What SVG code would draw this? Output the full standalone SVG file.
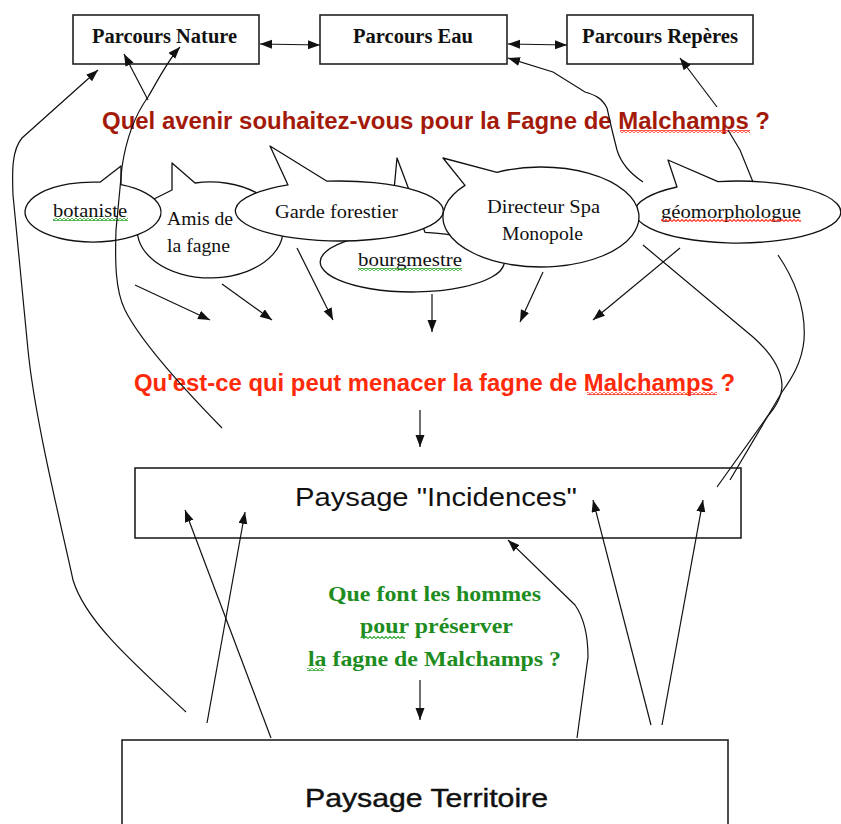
<svg xmlns="http://www.w3.org/2000/svg" width="841" height="824" viewBox="0 0 841 824">
  <style>
    .box { fill: #fff; stroke: #222; stroke-width: 1.6; }
    .bubble { fill: #fff; stroke: #111; stroke-width: 1.3; stroke-linejoin: round; }
    .lbl { font-family: "Liberation Serif", "Times New Roman", serif; font-weight: bold; font-size: 20px; fill: #111; }
    .say { font-family: "Liberation Serif", "Times New Roman", serif; font-size: 19px; fill: #111; }
    .q1 { font-family: "Liberation Sans", Arial, sans-serif; font-weight: bold; font-size: 23.5px; fill: #a31a0b; }
    .q2 { font-family: "Liberation Sans", Arial, sans-serif; font-weight: bold; font-size: 23.5px; fill: #ff2a0a; }
    .q3 { font-family: "Liberation Serif", "Times New Roman", serif; font-weight: bold; font-size: 22px; fill: #1e8c1e; }
    .big { font-family: "Liberation Sans", Arial, sans-serif; font-size: 25px; fill: #111; }
    .heavy { stroke: #111; stroke-width: 0.4; }
    .link { fill: none; stroke: #111; stroke-width: 1.2; }
    .arr { marker-end: url(#head); }
    .both { marker-start: url(#head); marker-end: url(#head); }
  </style>
  <defs>
    <marker id="head" markerUnits="userSpaceOnUse" markerWidth="13" markerHeight="10" refX="12" refY="4.5" orient="auto-start-reverse">
      <path d="M0,0 L12,4.5 L0,9 Z" fill="#111"/>
    </marker>
    <pattern id="wavyGreen" patternUnits="userSpaceOnUse" width="4" height="3">
      <path d="M0,2.5 L2,0.5 L4,2.5" fill="none" stroke="#2fa52f" stroke-width="1.1"/>
    </pattern>
    <pattern id="wavyRed" patternUnits="userSpaceOnUse" width="4" height="3">
      <path d="M0,2.5 L2,0.5 L4,2.5" fill="none" stroke="#ff3020" stroke-width="1.1"/>
    </pattern>
  </defs>
  <rect width="841" height="824" fill="#fff"/>

  <!-- top boxes -->
  <g id="parcours-nature">
    <rect class="box" x="73" y="15" width="186" height="49"/>
    <text class="lbl" x="92" y="43" textLength="145" lengthAdjust="spacingAndGlyphs">Parcours Nature</text>
  </g>
  <g id="parcours-eau">
    <rect class="box" x="320" y="15" width="187" height="49"/>
    <text class="lbl" x="353" y="43" textLength="120" lengthAdjust="spacingAndGlyphs">Parcours Eau</text>
  </g>
  <g id="parcours-reperes">
    <rect class="box" x="567" y="15" width="186" height="49"/>
    <text class="lbl" x="582" y="43" textLength="156" lengthAdjust="spacingAndGlyphs">Parcours Repères</text>
  </g>

  <!-- questions -->
  <g id="question-avenir">
    <text class="q1" x="102" y="129" textLength="668" lengthAdjust="spacingAndGlyphs">Quel avenir souhaitez-vous pour la Fagne de Malchamps ?</text>
    <rect x="620" y="130" width="130" height="3" fill="url(#wavyRed)"/>
  </g>

  <!-- speech bubbles, back to front -->
  <g id="amis-de-la-fagne">
    <path class="bubble" d="M155,198.5 L172,190 L172,163 L195,183 A73,48 0 1 1 155,198.5 Z"/>
    <text class="say" x="167" y="225" textLength="66" lengthAdjust="spacingAndGlyphs">Amis de</text>
    <text class="say" x="167" y="252" textLength="63" lengthAdjust="spacingAndGlyphs">la fagne</text>
  </g>
  <g id="bourgmestre">
    <path class="bubble" d="M390,232.9 L397,158 L425,232.3 A92,30 0 1 1 390,232.9 Z"/>
    <text class="say" x="358" y="266" textLength="104" lengthAdjust="spacingAndGlyphs">bourgmestre</text>
    <rect x="358" y="268" width="104" height="3" fill="url(#wavyGreen)"/>
  </g>
  <g id="geomorphologue">
    <path class="bubble" d="M677,187 L668,160 L718,181.6 A103,31 0 1 1 677,187 Z"/>
    <text class="say" x="661" y="218" textLength="140" lengthAdjust="spacingAndGlyphs">géomorphologue</text>
    <rect x="661" y="219" width="140" height="3" fill="url(#wavyRed)"/>
  </g>
  <g id="botaniste">
    <path class="bubble" d="M100,182.2 L121,166 L121,184.7 A68,30 0 1 1 100,182.2 Z"/>
    <text class="say" x="53" y="217" textLength="74" lengthAdjust="spacingAndGlyphs">botaniste</text>
    <rect x="53" y="218" width="75" height="3" fill="url(#wavyGreen)"/>
  </g>
  <g id="garde-forestier">
    <path class="bubble" d="M288,184.9 L270,146 L327,181.2 A104,30 0 1 1 288,184.9 Z"/>
    <text class="say" x="275" y="218" textLength="123" lengthAdjust="spacingAndGlyphs">Garde forestier</text>
  </g>
  <g id="directeur-spa">
    <path class="bubble" d="M465,185.4 L443,158 L497,172.3 A98,50 0 1 1 465,185.4 Z"/>
    <text class="say" x="487" y="213" textLength="113" lengthAdjust="spacingAndGlyphs">Directeur Spa</text>
    <text class="say" x="502" y="240" textLength="81" lengthAdjust="spacingAndGlyphs">Monopole</text>
  </g>

  <g id="question-menaces">
    <text class="q2" x="134" y="391" textLength="601" lengthAdjust="spacingAndGlyphs">Qu'est-ce qui peut menacer la fagne de Malchamps ?</text>
    <rect x="587" y="392" width="130" height="3" fill="url(#wavyRed)"/>
  </g>

  <g id="paysage-incidences">
    <rect class="box" x="135" y="468" width="606" height="70" stroke-width="2"/>
    <text class="big" x="295" y="506" textLength="282" lengthAdjust="spacingAndGlyphs">Paysage "Incidences"</text>
  </g>

  <g id="question-hommes">
    <text class="q3" x="328" y="601" textLength="213" lengthAdjust="spacingAndGlyphs">Que font les hommes</text>
    <text class="q3" x="360" y="633" textLength="153" lengthAdjust="spacingAndGlyphs">pour préserver</text>
    <text class="q3" x="308" y="666" textLength="253" lengthAdjust="spacingAndGlyphs">la fagne de Malchamps ?</text>
    <rect x="361" y="636" width="44" height="3" fill="url(#wavyGreen)"/>
    <rect x="307" y="668" width="17" height="3" fill="url(#wavyGreen)"/>
  </g>

  <g id="paysage-territoire">
    <rect class="box" x="122" y="740" width="606" height="100" stroke-width="2"/>
    <text class="big heavy" x="305" y="807" textLength="243" lengthAdjust="spacingAndGlyphs">Paysage Territoire</text>
  </g>

  <!-- connectors -->
  <g id="connectors">
    <path class="link both" d="M260,44 L320,45"/>
    <path class="link both" d="M508,44 L567,45"/>

    <path class="link arr" d="M186,712 C 130,660 85,620 73,580 C 60,520 35,420 28,350 L 13,195 C 12,170 12,150 22,138 L 98,70"/>
    <path class="link arr" d="M222,428 C 180,385 140,340 125,310 C 115,290 115,260 116,230 L 122,167 C 126,140 135,115 148,97 C 158,80 168,60 180,47"/>
    <path class="link arr" d="M148,100 L124,54"/>
    <path class="link arr" d="M643,182 C 628,172 620,160 617,150 L 612,130 L 607,108 C 602,98 595,95 585,92 L 553,72 L 508,58"/>
    <path class="link" d="M753,182 L740,150 L728,130"/>
    <path class="link arr" d="M717,107 L680,58"/>

    <path class="link arr" d="M135,285 L210,320"/>
    <path class="link arr" d="M222,284 L272,320"/>
    <path class="link arr" d="M297,248 L333,320"/>
    <path class="link arr" d="M432,294 L432,332"/>
    <path class="link arr" d="M543,272 L520,322"/>
    <path class="link arr" d="M680,248 L593,320"/>

    <path class="link arr" d="M420,410 L420,447"/>
    <path class="link arr" d="M420,680 L420,720"/>

    <path class="link" d="M643,245 L753,337 Q 781,362 782,385 Q 782,400 767,417 L717,487"/>
    <path class="link" d="M778,255 C 795,280 806,310 804,340 C 802,362 792,378 782,392 L730,480"/>

    <path class="link arr" d="M271,738 L185,510"/>
    <path class="link arr" d="M207,723 L245,512"/>
    <path class="link arr" d="M577,738 L588,657 C 588,630 582,615 575,605 L508,540"/>
    <path class="link arr" d="M651,725 L593,500"/>
    <path class="link arr" d="M662,725 L703,500"/>
  </g>
</svg>
